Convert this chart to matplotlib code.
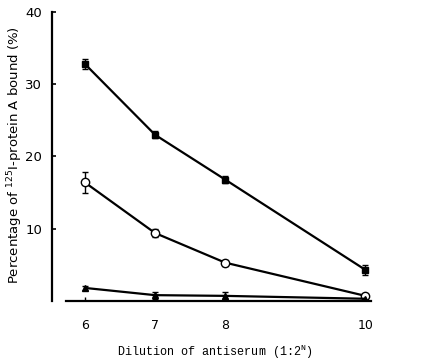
import matplotlib
matplotlib.use("Agg")
import matplotlib.pyplot as plt

# dilution exponent N (1:2^N)
dilution = [6, 7, 8, 10]

# % of 125I-protein A bound
bound_sq = [32.8, 23.0, 16.8, 4.3]
err_sq = [0.7, 0.5, 0.5, 0.7]

bound_circ = [16.4, 9.4, 5.3, 0.7]
err_circ = [1.5, 0.5, 0.4, 0.3]

bound_tri = [1.8, 0.8, 0.7, 0.3]
err_tri = [0.3, 0.5, 0.5, 0.2]

xticks = [6, 7, 8, 10]
yticks = [10, 20, 30, 40]

mono = "Liberation Mono"
sans = "DejaVu Sans"

fig = plt.figure(figsize=(4.33, 3.63), dpi=100)
ax = fig.add_axes([0.120, 0.171, 0.80, 0.796])

common = dict(color="black", ecolor="black", elinewidth=1.0, capsize=2.5, capthick=1.0, lw=1.6)
ax.errorbar(dilution, bound_sq, yerr=err_sq, marker="s", ms=5, mfc="black", mec="black", **common)
ax.errorbar(dilution, bound_circ, yerr=err_circ, marker="o", ms=6, mfc="white", mec="black", mew=1.0, **common)
ax.errorbar(dilution, bound_tri, yerr=err_tri, marker="^", ms=4, mfc="black", mec="black", **common)

ax.set_xlim(5.53, 10.47)
ax.set_ylim(0, 40)
ax.set_xticks(xticks)
ax.set_yticks(yticks)
ax.set_xticklabels([str(t) for t in xticks], family=sans, fontsize=9)
ax.set_yticklabels([str(t) for t in yticks], family=sans, fontsize=9.5)

for s in ["top", "right"]:
    ax.spines[s].set_visible(False)
ax.spines["left"].set_linewidth(1.6)
ax.spines["bottom"].set_linewidth(1.6)
ax.spines["bottom"].set_bounds(5.73, 10.08)
ax.tick_params(axis="y", direction="in", length=3, width=1.2, pad=7)
ax.tick_params(axis="x", direction="in", length=3, width=1.0, pad=13)

ax.set_xlabel("Dilution of antiserum (1:2$^{\\mathregular{N}}$)", family=mono, fontsize=8.5)
ax.xaxis.set_label_coords(0.471, -0.145)
ax.set_ylabel("Percentage of $^{\\mathregular{125}}$I-protein A bound (%)", family=sans, fontsize=9.5)
ax.yaxis.set_label_coords(-0.078, 0.505)

fig.savefig("out.png", dpi=100)
